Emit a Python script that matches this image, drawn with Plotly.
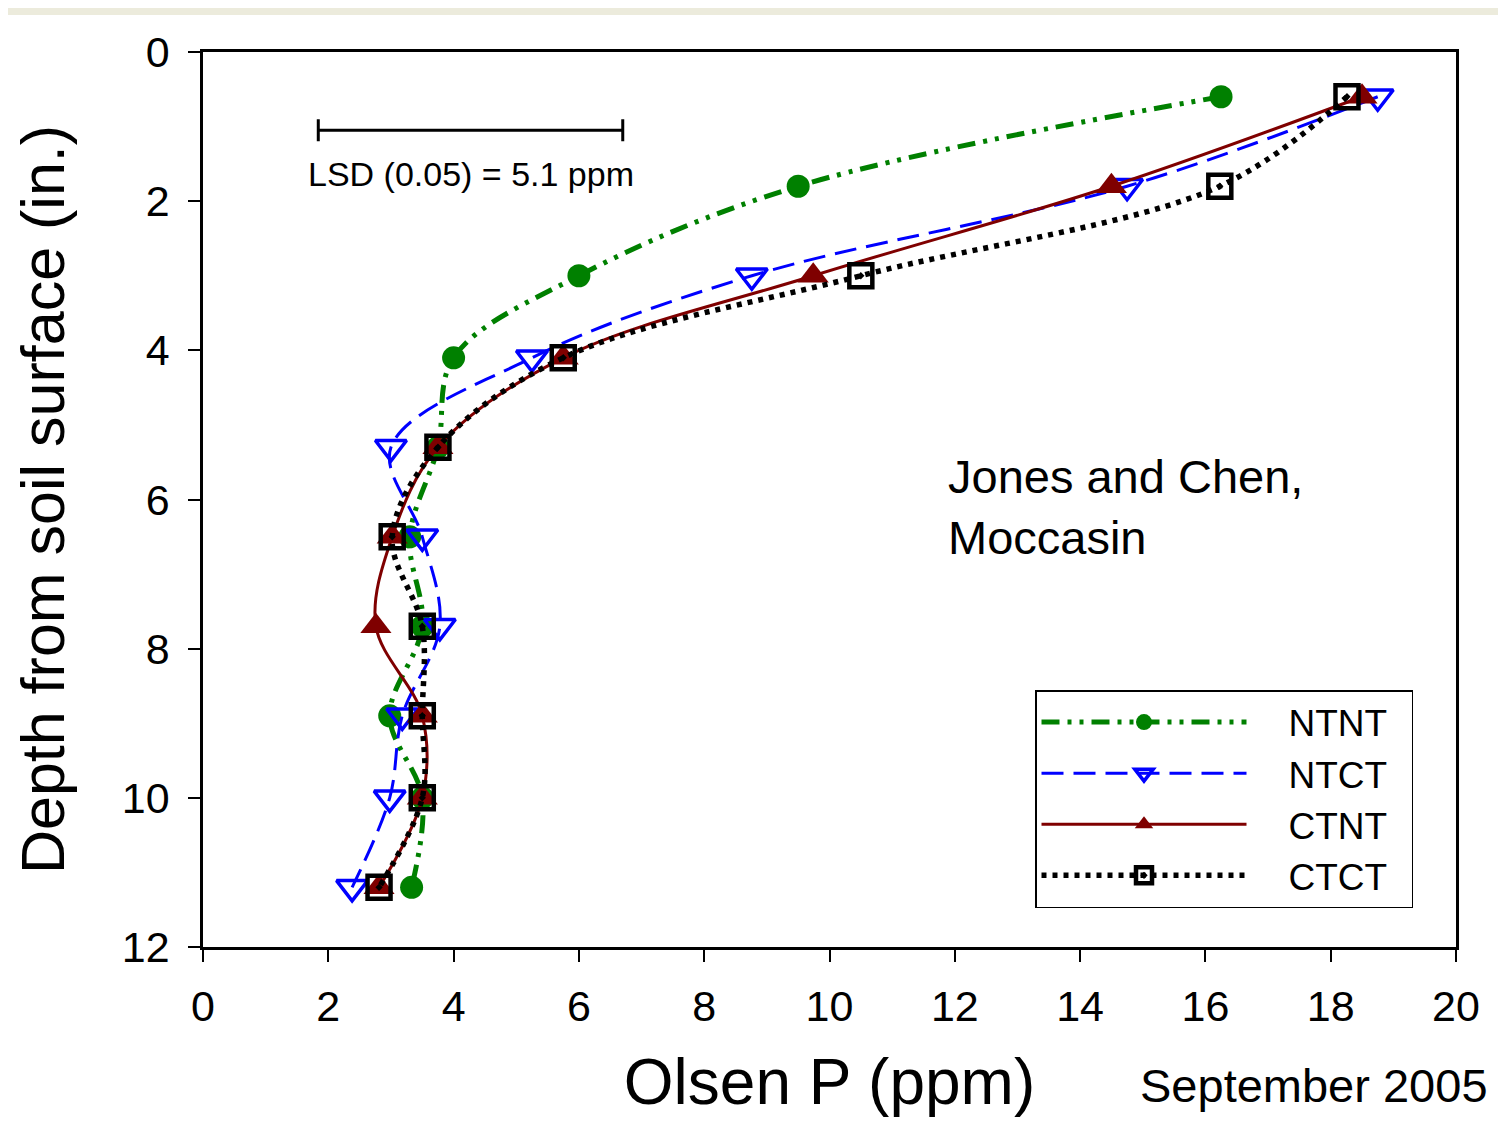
import plotly.graph_objects as go

# ---- data ----
depth = [0.6, 1.8, 3.0, 4.1, 5.3, 6.5, 7.7, 8.9, 10.0, 11.2]
ntnt = [16.25, 9.5, 6.0, 4.0, 3.75, 3.3, 3.5, 2.98, 3.5, 3.33]
ntct = [18.75, 14.75, 8.76, 5.25, 3.0, 3.5, 3.78, 3.18, 2.98, 2.38]
ctnt = [18.5, 14.5, 9.74, 5.75, 3.75, 3.02, 2.76, 3.5, 3.5, 2.81]
ctct = [18.26, 16.23, 10.5, 5.75, 3.75, 3.02, 3.5, 3.5, 3.5, 2.81]
series_names = ["NTNT", "NTCT", "CTNT", "CTCT"]
x_ticks = list(range(0, 21, 2))
y_ticks = list(range(0, 13, 2))
lsd_center, lsd_half, lsd_depth = 4.27, 2.43, 1.05

FONT = "Liberation Sans, Arial, sans-serif"
PAD_L = "\u2002\u2002"
PAD_R = "\u2002"

# figure is placed at (8, 8) in the page by the default body margin
W, H = 1490, 1110
L, T = 195, 44
R = W - (1456 - 8)
B = H - (947 - 8)

fig = go.Figure()

fig.add_trace(go.Scatter(
    x=ntnt, y=depth, name=PAD_L + series_names[0] + PAD_R, mode="lines+markers",
    line=dict(color="#008000", width=5, dash="18px,8px,4px,8px,4px,8px", shape="spline", smoothing=1),
    marker=dict(symbol="circle", size=23, color="#008000")))
fig.add_trace(go.Scatter(
    x=ntct, y=depth, name=PAD_L + series_names[1] + PAD_R, mode="lines+markers",
    line=dict(color="#0000ff", width=3, dash="22px,10px", shape="spline", smoothing=1),
    marker=dict(symbol="triangle-down-open", size=27, color="#0000ff", line=dict(width=3.5, color="#0000ff"))))
fig.add_trace(go.Scatter(
    x=ctnt, y=depth, name=PAD_L + series_names[2] + PAD_R, mode="lines+markers",
    line=dict(color="#7f0000", width=3, shape="spline", smoothing=1),
    marker=dict(symbol="triangle-up", size=27, color="#7f0000")))
fig.add_trace(go.Scatter(
    x=ctct, y=depth, name=PAD_L + series_names[3] + PAD_R, mode="lines+markers",
    line=dict(color="#000000", width=5.5, dash="5px,6px", shape="spline", smoothing=1),
    marker=dict(symbol="square-open-dot", size=23, color="#000000", line=dict(width=4.5, color="#000000"))))

# LSD bar
fig.add_trace(go.Scatter(
    x=[lsd_center], y=[lsd_depth], mode="markers", showlegend=False, hoverinfo="skip",
    marker=dict(size=1, color="rgba(0,0,0,0)"),
    error_x=dict(type="constant", value=lsd_half, color="black", thickness=3, width=11)))

axis_common = dict(
    showline=True, linecolor="black", linewidth=2.5, mirror=True,
    ticks="outside", ticklen=12, tickwidth=2, tickcolor="black",
    showgrid=False, zeroline=False, automargin=False,
    tickfont=dict(family=FONT, size=43, color="black"),
)

fig.update_layout(
    width=W, height=H,
    margin=dict(l=L, r=R, t=T, b=B),
    paper_bgcolor="white", plot_bgcolor="white",
    font=dict(family=FONT, color="black"),
    xaxis=dict(range=[0, 20], tickvals=x_ticks, ticklabelstandoff=8, **axis_common,
               title=dict(text="Olsen P (ppm)", font=dict(family=FONT, size=64), standoff=40)),
    yaxis=dict(range=[12, 0], tickvals=y_ticks, ticklabelstandoff=10, **axis_common,
               title=dict(text="Depth from soil surface (in.)", font=dict(family=FONT, size=61), standoff=38)),
    legend=dict(x=(1035 - 203) / 1253, y=(947 - 690) / 895, xanchor="left", yanchor="top",
                bordercolor="black", borderwidth=1.5, bgcolor="white",
                font=dict(family=FONT, size=37), itemwidth=205,
                tracegroupgap=0),
    showlegend=True,
    annotations=[
        dict(text="LSD (0.05) = 5.1 ppm", x=lsd_center, y=lsd_depth, xref="x", yref="y",
             yshift=-44, showarrow=False, font=dict(family=FONT, size=34)),
        dict(text="Jones and Chen,<br>Moccasin", x=(946 - 203) / 1253, y=(947 - 507) / 895,
             xref="paper", yref="paper",
             showarrow=False, align="left", xanchor="left", yanchor="middle",
             font=dict(family=FONT, size=47)),
        dict(text="September 2005", x=(1490 - 203) / 1253, y=(947 - 1085) / 895,
             xref="paper", yref="paper",
             showarrow=False, xanchor="right", yanchor="middle",
             font=dict(family=FONT, size=47)),
    ],
    shapes=[dict(type="rect", xref="paper", yref="paper", x0=-0.17, x1=1.05,
                 y0=(947 - 15) / 895, y1=(947 + 0) / 895 + 0.01, fillcolor="#ecebdc",
                 line=dict(width=0), layer="below")],
)

fig.write_html("out.html")
